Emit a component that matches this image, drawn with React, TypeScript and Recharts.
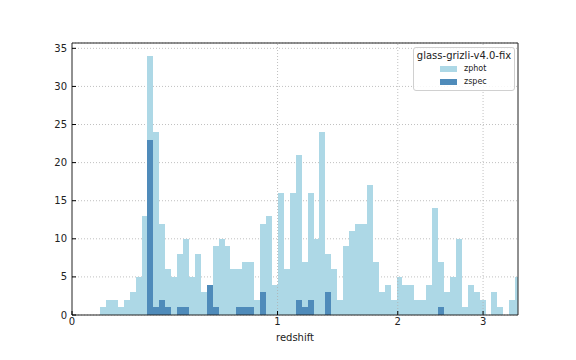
import { ComposedChart, Area, XAxis, YAxis, CartesianGrid, ReferenceArea, ReferenceLine } from 'recharts';

// histogram in ln(1+z), bins 0.02 wide
const BIN_START = 0.0945;
const BIN_WIDTH = 0.02;
const X_MAX = Math.log(4.5);
const Y_MAX = 35.7;

const zphotCounts = [
  1, 2, 2, 1, 2, 3, 5, 13, 34, 24, 12, 6, 5, 8, 10, 5, 8, 3, 3, 9,
  10, 9, 6, 6, 7, 7, 2, 12, 13, 4, 16, 6, 16, 21, 7, 16, 10, 24, 8, 6,
  2, 9, 11, 12, 12, 17, 7, 3, 4, 2, 5, 4, 4, 2, 2, 4, 14, 7, 3, 5,
  10, 1, 4, 3, 2, 0, 3, 1, 0, 2, 5,
];

const zspecCounts = [
  0, 0, 0, 0, 0, 0, 0, 0, 23, 1, 2, 1, 0, 1, 1, 0, 0, 0, 4, 1,
  0, 0, 0, 1, 1, 1, 0, 3, 0, 0, 0, 0, 0, 2, 1, 2, 0, 0, 3, 0,
  0, 0, 0, 0, 0, 0, 0, 0, 0, 0, 0, 0, 0, 0, 0, 0, 0, 1, 0, 0,
  0, 0, 0, 0, 0, 0, 0, 0, 0, 0, 0,
];

const xTickLabels = [0, 1, 2, 3];
const yTicks = [0, 5, 10, 15, 20, 25, 30, 35];
const xTicks = xTickLabels.map((z) => Math.log(1 + z));

// two points per bin (left and right edge) so each bin is a flat-topped block
const data: { x: number; zphot: number; zspec: number }[] = [];
zphotCounts.forEach((c, i) => {
  const left = BIN_START + i * BIN_WIDTH;
  const right = Math.min(left + BIN_WIDTH, X_MAX);
  data.push({ x: left, zphot: c, zspec: zspecCounts[i] });
  data.push({ x: right, zphot: c, zspec: zspecCounts[i] });
});

const FONT = '"DejaVu Sans", sans-serif';
const LIGHT = '#add8e6';
const DARK = '#4f8bba';
const GRID = '#b0b0b0';

const fmtX = (v: number) => {
  const i = xTicks.findIndex((t) => Math.abs(t - v) < 1e-9);
  return i >= 0 ? String(xTickLabels[i]) : '';
};

export default function App() {
  return (
    <div style={{ position: 'absolute', left: 0, top: 0, width: 576, height: 360, background: '#fff', fontFamily: FONT }}>
      <ComposedChart width={576} height={360} data={data} margin={{ top: 43, right: 58, bottom: 15, left: 32 }}>
        <XAxis
          type="number"
          dataKey="x"
          domain={[0, X_MAX]}
          allowDataOverflow
          ticks={xTicks}
          tickFormatter={fmtX}
          height={30}
          tickSize={-4}
          tickMargin={7}
          axisLine={false}
          tickLine={{ stroke: '#000' }}
          tick={{ fill: '#222', fontSize: 10, fontFamily: FONT }}
          label={{ value: 'redshift', position: 'insideBottom', offset: 4, fill: '#222', fontSize: 10, fontFamily: FONT }}
        />
        <YAxis
          type="number"
          domain={[0, Y_MAX]}
          allowDataOverflow
          ticks={yTicks}
          width={40}
          tickSize={-4}
          tickMargin={9}
          axisLine={false}
          tickLine={{ stroke: '#000' }}
          tick={{ fill: '#222', fontSize: 10, fontFamily: FONT }}
        />
        <Area
          type="linear"
          dataKey="zphot"
          fill={LIGHT}
          fillOpacity={1}
          stroke="none"
          shapeRendering="crispEdges"
          dot={false}
          activeDot={false}
          isAnimationActive={false}
        />
        <Area
          type="linear"
          dataKey="zspec"
          fill={DARK}
          fillOpacity={1}
          stroke="none"
          shapeRendering="crispEdges"
          dot={false}
          activeDot={false}
          isAnimationActive={false}
        />
        <CartesianGrid vertical={false} stroke={GRID} strokeDasharray="1 2" strokeWidth={0.8} />
        {xTicks.slice(1).map((t) => (
          <ReferenceLine key={t} x={t} stroke={GRID} strokeDasharray="1 2" strokeWidth={0.8} />
        ))}
        <ReferenceArea x1={0} x2={X_MAX} y1={0} y2={Y_MAX} fill="none" stroke="#222" strokeWidth={1} ifOverflow="visible" />
      </ComposedChart>
      <div
        style={{
          position: 'absolute',
          left: 413,
          top: 47,
          width: 100,
          height: 42,
          background: 'rgba(255,255,255,0.85)',
          border: '1px solid #d0d0d0',
          borderRadius: 3,
          color: '#222',
        }}
      >
        <div style={{ position: 'absolute', left: 0, top: 2, width: 100, textAlign: 'center', fontSize: 10, lineHeight: '12px' }}>
          glass-grizli-v4.0-fix
        </div>
        {[
          { name: 'zphot', color: LIGHT, top: 18 },
          { name: 'zspec', color: DARK, top: 31 },
        ].map((e) => (
          <div key={e.name} style={{ position: 'absolute', left: 26, top: e.top, height: 7 }}>
            <div style={{ position: 'absolute', left: 0, top: 0, width: 17, height: 6, background: e.color }} />
            <div style={{ position: 'absolute', left: 24, top: -3, fontSize: 8, lineHeight: '12px', whiteSpace: 'nowrap' }}>
              {e.name}
            </div>
          </div>
        ))}
      </div>
    </div>
  );
}
